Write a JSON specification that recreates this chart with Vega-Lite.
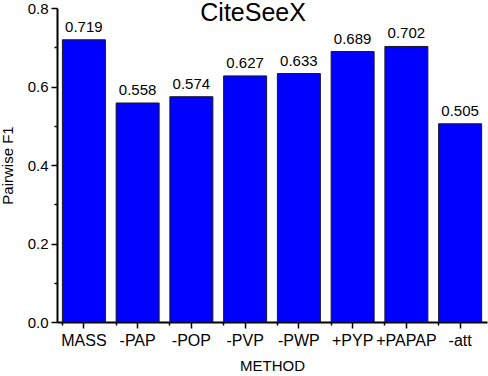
{
  "$schema": "https://vega.github.io/schema/vega-lite/v6.json",
  "width": 430,
  "height": 314,
  "autosize": {"type": "none"},
  "padding": {"left": 57, "top": 8, "right": 1, "bottom": 54},
  "background": "white",
  "config": {
    "view": {"stroke": null},
    "font": "Liberation Sans"
  },
  "data": {
    "values": [
      {"method": "MASS", "f1": 0.719},
      {"method": "-PAP", "f1": 0.558},
      {"method": "-POP", "f1": 0.574},
      {"method": "-PVP", "f1": 0.627},
      {"method": "-PWP", "f1": 0.633},
      {"method": "+PYP", "f1": 0.689},
      {"method": "+PAPAP", "f1": 0.702},
      {"method": "-att", "f1": 0.505}
    ]
  },
  "layer": [
    {
      "mark": {"type": "bar", "color": "#0000ff", "stroke": "#1a1a1a", "strokeWidth": 1},
      "encoding": {
        "x": {
          "field": "method",
          "type": "nominal",
          "sort": null,
          "scale": {"paddingInner": 0.2, "paddingOuter": 0.1},
          "axis": {
            "title": "METHOD",
            "titleFont": "Liberation Sans",
            "titleFontSize": 15,
            "titleFontWeight": "normal",
            "titleColor": "black",
            "titlePadding": 10,
            "labelAngle": 0,
            "labelFont": "Liberation Sans",
            "labelFontSize": 16,
            "labelColor": "black",
            "labelPadding": 4,
            "tickSize": 6,
            "tickColor": "black",
            "tickWidth": 1.5,
            "domainColor": "black",
            "domainWidth": 2
          }
        },
        "y": {
          "field": "f1",
          "type": "quantitative",
          "scale": {"domain": [0, 0.8], "nice": false},
          "axis": {
            "title": "Pairwise F1",
            "titleFont": "Liberation Sans",
            "titleFontSize": 15,
            "titleFontWeight": "normal",
            "titleColor": "black",
            "titleX": -45,
            "titleBaseline": "alphabetic",
            "values": [0, 0.2, 0.4, 0.6, 0.8],
            "format": ".1f",
            "labelFont": "Liberation Sans",
            "labelFontSize": 15,
            "labelColor": "black",
            "labelPadding": 3,
            "tickSize": 6,
            "tickColor": "black",
            "tickWidth": 1.5,
            "domainColor": "black",
            "domainWidth": 2,
            "grid": false
          }
        }
      }
    },
    {
      "mark": {"type": "text", "baseline": "alphabetic", "dy": -8, "fontSize": 15, "font": "Liberation Sans", "color": "black"},
      "encoding": {
        "text": {"field": "f1", "type": "quantitative", "format": ".3f"},
        "x": {
          "field": "method",
          "type": "nominal",
          "sort": null,
          "axis": {
            "orient": "bottom",
            "bandPosition": 0,
            "labels": false,
            "title": null,
            "domain": false,
            "tickSize": 3,
            "tickColor": "black",
            "tickWidth": 1.5
          }
        },
        "y": {
          "field": "f1",
          "type": "quantitative",
          "axis": {
            "orient": "left",
            "values": [0.1, 0.3, 0.5, 0.7],
            "labels": false,
            "title": null,
            "domain": false,
            "grid": false,
            "tickSize": 3,
            "tickColor": "black",
            "tickWidth": 1.5
          }
        }
      }
    },
    {
      "data": {"values": [{"label": "CiteSeeX", "method": "-PVP", "f1": 0.8}]},
      "mark": {"type": "text", "baseline": "alphabetic", "align": "center", "dx": 8, "dy": 13, "fontSize": 25, "font": "Liberation Sans", "color": "black"},
      "encoding": {
        "text": {"field": "label", "type": "nominal"},
        "x": {"field": "method", "type": "nominal", "sort": null, "axis": null},
        "y": {"field": "f1", "type": "quantitative", "axis": null}
      }
    }
  ],
  "resolve": {"axis": {"x": "independent", "y": "independent"}}
}
